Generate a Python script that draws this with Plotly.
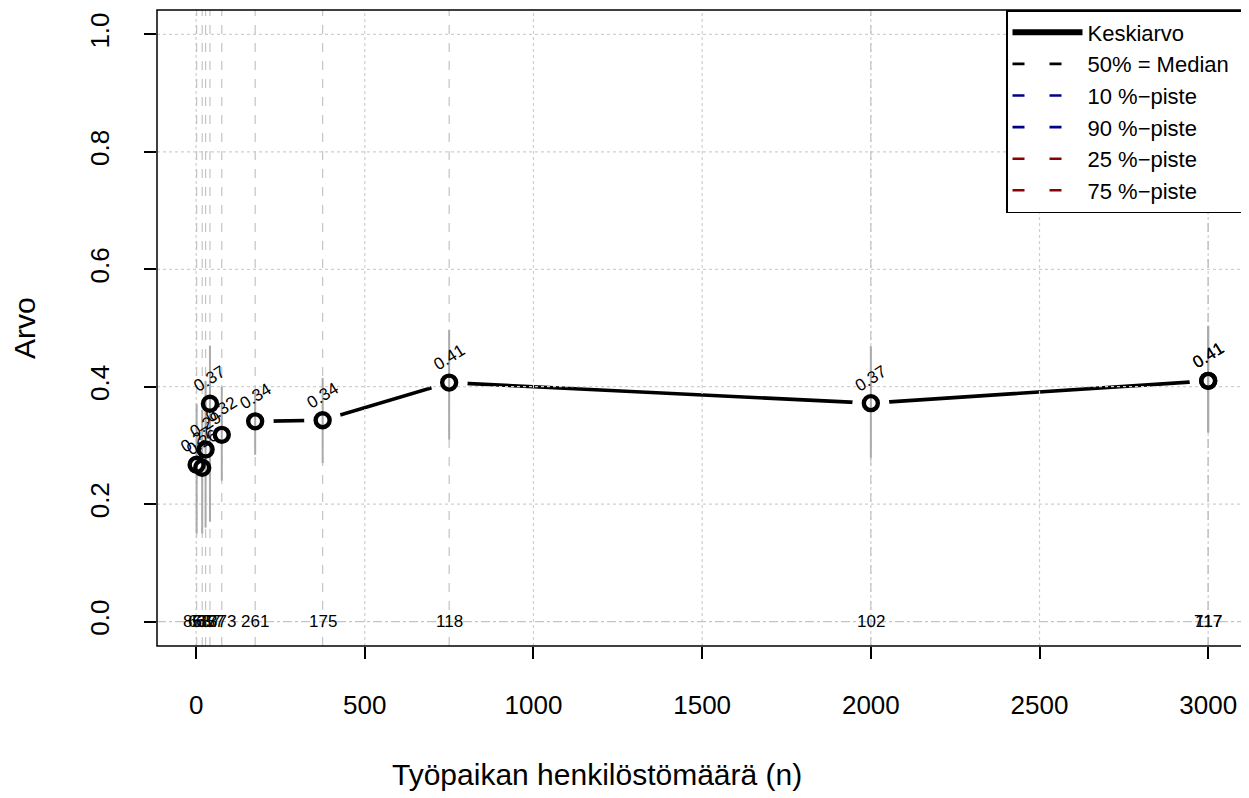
import plotly.graph_objects as go

# ---- data ----
size_x = [1.5, 18, 28, 41, 76, 175, 375, 750, 2000, 3000, 3000]
mean_val = [0.267, 0.262, 0.293, 0.371, 0.318, 0.341, 0.343, 0.407, 0.372, 0.410, 0.410]
low_val = [0.15, 0.15, 0.16, 0.17, 0.24, 0.284, 0.27, 0.31, 0.279, 0.322, 0.322]
high_val = [0.37, 0.36, 0.41, 0.47, 0.40, 0.392, 0.415, 0.497, 0.469, 0.503, 0.503]
n_labels = ["863", "637", "587", "657", "373", "261", "175", "118", "102", "117", "717"]
x_ticks = [0, 500, 1000, 1500, 2000, 2500, 3000]
y_ticks = [0.0, 0.2, 0.4, 0.6, 0.8, 1.0]
y_ticktext = ["0.0", "0.2", "0.4", "0.6", "0.8", "1.0"]
legend_names = ["Keskiarvo", "50% = Median", "10 %\u2212piste", "90 %\u2212piste",
                "25 %\u2212piste", "75 %\u2212piste"]
legend_colors = ["black", "black", "#00008B", "#00008B", "#8B0000", "#8B0000"]

XR = [-116, 3118]
YR = [-0.0416, 1.0416]
FONT = "Liberation Sans, Arial, sans-serif"

fig = go.Figure()

# mean line (connecting points)
fig.add_trace(go.Scatter(x=size_x, y=mean_val, mode="lines",
                         line=dict(color="black", width=3.6), showlegend=False,
                         hoverinfo="skip"))
# white discs create the "type b" gaps around points
fig.add_trace(go.Scatter(x=size_x, y=mean_val, mode="markers",
                         marker=dict(color="white", size=37, line=dict(width=0)),
                         showlegend=False, hoverinfo="skip"))

# dotted grid
gx, gy = [], []
for t in x_ticks:
    gx += [t, t, None]
    gy += [YR[0], YR[1], None]
fig.add_trace(go.Scatter(x=gx, y=gy, mode="lines",
                         line=dict(color="#cfcfcf", width=1.2, dash="dot"),
                         showlegend=False, hoverinfo="skip"))
hx, hy = [], []
for t in y_ticks[1:]:
    hx += [XR[0], XR[1], None]
    hy += [t, t, None]
fig.add_trace(go.Scatter(x=hx, y=hy, mode="lines",
                         line=dict(color="#cfcfcf", width=1.2, dash="dot"),
                         showlegend=False, hoverinfo="skip"))
# zero line (dash-dot)
fig.add_trace(go.Scatter(x=XR, y=[0, 0], mode="lines",
                         line=dict(color="#c4c4c4", width=1.2, dash="dashdot"),
                         showlegend=False, hoverinfo="skip"))
# dashed vertical lines at each group x
vx, vy = [], []
for x in size_x:
    vx += [x, x, None]
    vy += [YR[0], YR[1], None]
fig.add_trace(go.Scatter(x=vx, y=vy, mode="lines",
                         line=dict(color="#c4c4c4", width=1.2, dash="dash"),
                         showlegend=False, hoverinfo="skip"))
# grey range lines
rx, ry = [], []
for x, lo, hi in zip(size_x, low_val, high_val):
    rx += [x, x, None]
    ry += [lo, hi, None]
fig.add_trace(go.Scatter(x=rx, y=ry, mode="lines",
                         line=dict(color="#aaaaaa", width=2),
                         showlegend=False, hoverinfo="skip"))
# open circles
fig.add_trace(go.Scatter(x=size_x, y=mean_val, mode="markers",
                         marker=dict(symbol="circle-open", size=14, color="black",
                                     line=dict(width=4.4, color="black")),
                         showlegend=False, hoverinfo="skip"))

# legend entries
for i, (nm, col) in enumerate(zip(legend_names, legend_colors)):
    label = nm + ("\u00a0" * 2 if i == 1 else "")
    fig.add_trace(go.Scatter(x=[None], y=[None], mode="lines", name=label,
                             line=dict(color=col, width=6 if i == 0 else 2.6,
                                       dash="solid" if i == 0 else "12px,25px")))

annotations = []
for x, m in zip(size_x, mean_val):
    annotations.append(dict(x=x, y=m, xref="x", yref="y", text=f"{m:.2f}",
                            showarrow=False, textangle=-32, yshift=25,
                            xanchor="center", yanchor="middle",
                            font=dict(family=FONT, size=17, color="black")))
for x, lab in zip(size_x, n_labels):
    annotations.append(dict(x=x, y=0, xref="x", yref="y", text=lab,
                            showarrow=False, xanchor="center", yanchor="middle",
                            font=dict(family=FONT, size=17, color="black")))
annotations.append(dict(x=0.403, y=-0.2028, xref="paper", yref="paper",
                        text="Työpaikan henkilöstömäärä (n)", showarrow=False,
                        xanchor="center", yanchor="middle",
                        font=dict(family=FONT, size=30, color="black")))
annotations.append(dict(x=-0.1219, y=0.5, xref="paper", yref="paper", text="Arvo",
                        showarrow=False, textangle=-90, xanchor="center", yanchor="middle",
                        font=dict(family=FONT, size=30, color="black")))

fig.update_layout(
    width=1241, height=790,
    margin=dict(l=149, r=1, t=2, b=152),
    paper_bgcolor="white", plot_bgcolor="white",
    font=dict(family=FONT, size=26, color="black"),
    annotations=annotations,
    shapes=[dict(type="rect", xref="paper", yref="paper", x0=0, y0=0, x1=1, y1=1,
                 line=dict(color="black", width=1.5), layer="above")],
    legend=dict(x=1, y=1, xanchor="right", yanchor="top", bgcolor="white",
                bordercolor="black", borderwidth=1.5,
                font=dict(family=FONT, size=22, color="black"),
                itemwidth=70, tracegroupgap=0),
    showlegend=True,
)
fig.update_xaxes(range=XR, tickvals=x_ticks, ticks="outside", ticklen=12, tickwidth=1.5,
                 tickcolor="black", showgrid=False, zeroline=False, showline=False,
                 tickfont=dict(family=FONT, size=26), ticklabelstandoff=24)
fig.update_yaxes(range=YR, tickvals=y_ticks, ticktext=y_ticktext, ticks="outside",
                 ticklen=12, tickwidth=1.5, tickcolor="black", showgrid=False,
                 zeroline=False, showline=False, tickangle=-90,
                 tickfont=dict(family=FONT, size=26), ticklabelstandoff=25)

fig.write_html("out.html")
